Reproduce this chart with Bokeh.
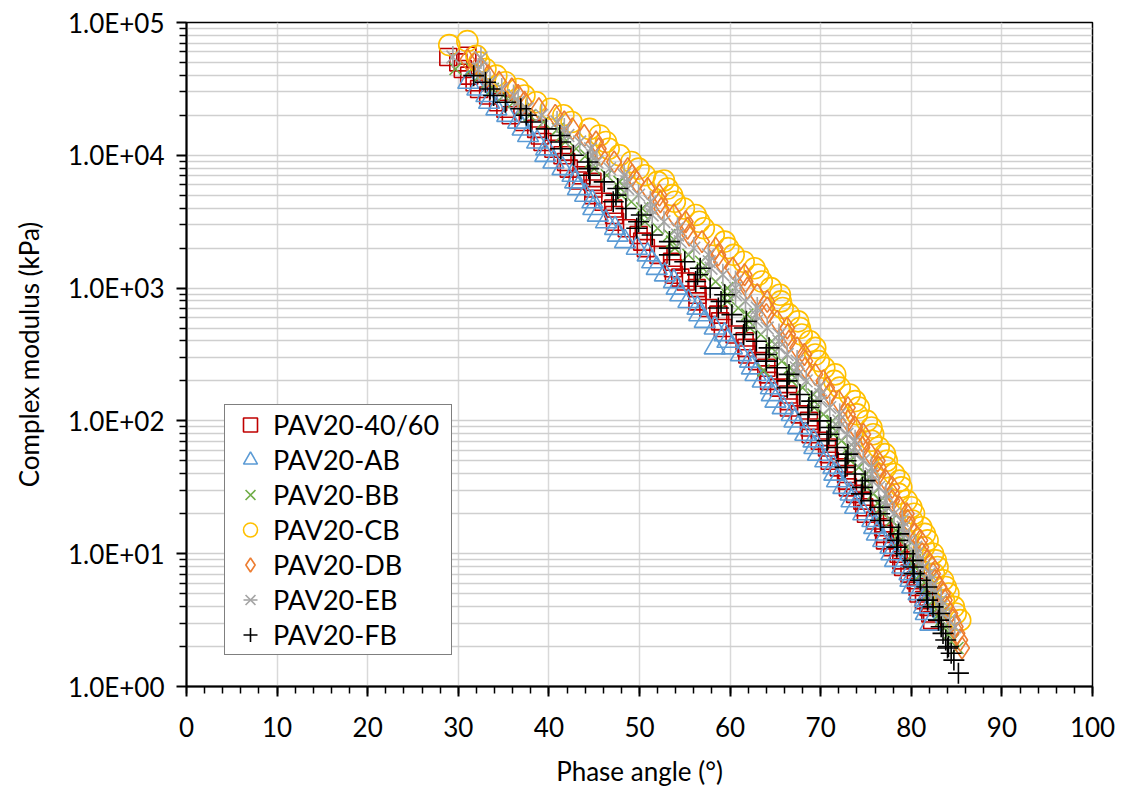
from bokeh.plotting import figure
from bokeh.models import Range1d, FixedTicker, CustomJSTickFormatter, Legend, LegendItem
from bokeh.embed import file_html
from bokeh.resources import INLINE
import math

# ---- data (phase angle in degrees, complex modulus in kPa) ----
pav_4060_x = [28.9, 30.0, 31.2, 32.3, 34.4, 35.8, 38.6, 39.3, 41.5, 42.2, 44.8, 43.2, 44.9, 47.1, 47.3, 49.9,
              50.7, 53.6, 53.8, 54.5, 56.3, 56.4, 58.7, 59.2, 61.6, 61.9, 64.0, 64.3, 66.4, 66.5, 68.7, 68.9,
              70.7, 71.0, 72.8, 73.0, 74.6, 75.0, 76.9, 77.1, 78.6, 79.1, 80.5, 80.8, 81.9, 82.3, 31.0,
              30.5, 31.8, 33.3, 35.2, 37.2, 39.0, 40.5, 41.9, 43.6, 44.9, 46.0, 47.2, 48.6, 50.3, 52.1, 53.7,
              55.1, 56.4, 57.6, 58.9, 60.5, 61.8, 63.0, 64.2, 65.4, 66.5, 67.7, 68.8, 69.9, 70.9, 72.0, 72.9,
              73.8, 74.8, 76.0, 77.0, 77.9, 78.9, 79.8, 80.7, 81.4, 82.1]
pav_4060_y = [55000, 50100, 39800, 31600, 25100, 20000, 15800, 12600, 10000, 7940, 6310, 6460, 5010, 3980, 3160, 2510,
              2000, 1580, 1260, 1200, 1000, 794, 631, 501, 398, 316, 251, 200, 158, 126, 100, 79.4,
              63.1, 50.1, 39.8, 31.6, 25.1, 20.0, 15.8, 12.6, 10.0, 7.94, 6.31, 5.01, 3.98, 3.16, 56200,
              44700, 35500, 28200, 22400, 17800, 14100, 11200, 8910, 7080, 5620, 4470, 3550, 2820, 2240, 1780, 1410,
              1120, 891, 708, 562, 447, 355, 282, 224, 178, 141, 112, 89.1, 70.8, 56.2, 44.7, 35.5,
              28.2, 22.4, 17.8, 14.1, 11.2, 8.91, 7.08, 5.62, 4.47, 3.55]

pav_ab_x = [31.1, 33.1, 34.2, 36.6, 37.7, 39.7, 40.5, 42.6, 43.2, 44.8, 45.4, 47.3, 48.4, 50.9, 51.9, 53.8,
            54.5, 56.4, 57.2, 58.3, 59.4, 60.2, 62.2, 62.8, 64.5, 65.0, 66.8, 67.5, 69.2, 69.7, 71.4, 71.8,
            73.3, 73.8, 75.7, 76.2, 77.7, 78.2, 79.8, 80.1, 81.5, 81.6, 82.1,
            32.1, 33.4, 35.4, 37.1, 38.7, 39.6, 41.5, 42.9, 44.0, 44.9, 46.3, 47.6, 49.7, 51.4, 52.8, 54.1,
            55.4, 56.6, 58.3, 59.7, 61.2, 62.4, 63.6, 64.6, 65.8, 67.1, 68.3, 69.3, 70.5, 71.5, 72.5, 73.4,
            74.7, 75.9, 76.9, 77.8, 79.0, 79.9, 80.8, 81.4]
pav_ab_y = [35500, 28200, 22400, 17800, 14100, 11200, 8910, 7080, 5620, 4470, 3550, 2820, 2240, 1780, 1410, 1120,
            891, 708, 562, 355, 447, 355, 282, 224, 178, 141, 112, 89.1, 70.8, 56.2, 44.7, 35.5,
            28.2, 22.4, 17.8, 14.1, 11.2, 8.91, 7.08, 5.62, 4.47, 3.55, 2.95,
            31600, 25100, 20000, 15800, 12600, 10000, 7940, 6310, 5010, 3980, 3160, 2510, 2000, 1580, 1260, 1000,
            794, 631, 501, 398, 316, 251, 200, 158, 126, 100, 79.4, 63.1, 50.1, 39.8, 31.6, 25.1,
            20.0, 15.8, 12.6, 10.0, 7.94, 6.31, 5.01, 3.98]

pav_bb_x = [29.7, 32.4, 33.8, 36.1, 37.9, 41.0, 41.8, 44.1, 45.0, 47.8, 48.0, 50.3, 50.6, 53.3, 53.9, 56.8,
            57.1, 59.7, 59.7, 61.9, 62.2, 64.6, 64.6, 66.6, 63.7, 66.8, 69.2, 69.3, 71.3, 71.4, 73.1, 73.3,
            75.0, 75.1, 76.6, 76.9, 78.6, 78.8, 80.2, 80.5, 81.7, 82.0, 83.0, 83.3, 84.2, 85.1,
            31.5, 33.2, 35.0, 37.1, 39.4, 41.4, 43.0, 44.6, 46.4, 47.9, 49.1, 50.5, 52.0, 53.6, 55.4, 57.0,
            58.4, 59.7, 60.9, 62.1, 63.4, 64.6, 65.7, 66.8, 68.0, 69.3, 70.3, 71.3, 72.3, 73.2, 74.2, 75.1,
            75.8, 76.7, 77.8, 78.7, 79.5, 80.4, 81.1, 81.9, 82.5, 83.2, 83.8, 84.6]
pav_bb_y = [44700, 39800, 31600, 25100, 20000, 15800, 12600, 10000, 7940, 6310, 5010, 3980, 3160, 2510, 2000, 1580,
            1260, 1000, 794, 631, 501, 398, 316, 251, 240, 200, 158, 126, 100, 79.4, 63.1, 50.1,
            39.8, 31.6, 25.1, 20.0, 15.8, 12.6, 10.0, 7.94, 6.31, 5.01, 3.98, 3.16, 2.51, 1.95,
            44700, 35500, 28200, 22400, 17800, 14100, 11200, 8910, 7080, 5620, 4470, 3550, 2820, 2240, 1780, 1410,
            1120, 891, 708, 562, 447, 355, 282, 224, 178, 141, 112, 89.1, 70.8, 56.2, 44.7, 35.5,
            28.2, 22.4, 17.8, 14.1, 11.2, 8.91, 7.08, 5.62, 4.47, 3.55, 2.82, 2.24]

pav_cb_x = [29.0, 31.0, 32.0, 33.0, 35.2, 37.3, 40.2, 42.5, 45.6, 46.6, 49.1, 50.6, 52.7, 53.1, 53.9, 56.2,
            57.1, 59.4, 60.4, 62.7, 63.5, 65.5, 65.8, 67.5, 67.9, 69.4, 69.8, 71.6, 72.1, 73.8, 74.0, 75.6,
            75.6, 77.1, 77.2, 78.7, 78.6, 80.0, 80.1, 81.5, 81.4, 82.7, 82.5, 83.8, 83.6, 84.9, 85.4,
            32.3, 34.2, 36.6, 38.6, 41.6, 44.5, 46.3, 47.8, 49.9, 52.0, 53.6, 54.9, 56.6, 58.2, 59.8, 61.5,
            63.1, 64.5, 65.6, 66.5, 67.7, 68.8, 69.4, 70.4, 71.5, 73.2, 74.2, 75.1, 75.8, 76.4, 77.3, 78.1,
            78.9, 79.5, 80.3, 81.1, 81.8, 82.4, 82.9, 83.5, 84.1, 84.7]
pav_cb_y = [67600, 72400, 56200, 44700, 35500, 28200, 22400, 17800, 14100, 11200, 8910, 7080, 6460, 5620, 4470, 3550,
            2820, 2240, 1780, 1410, 1120, 891, 708, 562, 447, 355, 282, 224, 178, 141, 112, 89.1,
            70.8, 56.2, 44.7, 35.5, 28.2, 22.4, 17.8, 14.1, 11.2, 8.91, 7.08, 5.62, 4.47, 3.55, 3.16,
            50100, 39800, 31600, 25100, 20000, 15800, 12600, 10000, 7940, 6310, 5010, 3980, 3160, 2510, 2000, 1580,
            1260, 1000, 794, 631, 501, 398, 316, 251, 200, 158, 126, 100, 79.4, 63.1, 50.1, 39.8,
            31.6, 25.1, 20.0, 15.8, 12.6, 10.0, 7.94, 6.31, 5.01, 3.98]

pav_db_x = [31.0, 31.9, 33.3, 35.9, 37.3, 40.7, 42.6, 45.2, 45.7, 48.7, 49.7, 52.2, 52.4, 55.1, 55.5, 58.4,
            59.0, 61.6, 61.9, 64.1, 64.0, 66.3, 66.5, 68.2, 68.3, 70.3, 71.0, 73.0, 73.0, 74.7, 74.6, 76.3,
            76.4, 77.9, 77.9, 79.5, 79.8, 81.0, 81.2, 82.3, 82.6, 83.5, 83.8, 84.6, 85.1, 85.6,
            32.6, 34.5, 36.6, 38.9, 41.7, 43.9, 45.5, 47.2, 49.2, 50.9, 52.3, 53.8, 55.3, 56.9, 58.7, 60.3,
            61.7, 63.0, 64.1, 65.2, 66.4, 67.4, 68.3, 69.4, 70.7, 72.0, 73.0, 73.8, 74.6, 75.5, 76.4, 77.2,
            77.9, 78.7, 79.6, 80.4, 81.1, 81.8, 82.4, 83.1, 83.7, 84.3, 84.9, 85.4]
pav_db_y = [52500, 50100, 39800, 31600, 25100, 20000, 15800, 12600, 10000, 7940, 6310, 5010, 3980, 3160, 2510, 2000,
            1580, 1260, 1000, 794, 631, 501, 398, 316, 251, 200, 158, 126, 100, 79.4, 63.1, 50.1,
            39.8, 31.6, 25.1, 20.0, 15.8, 12.6, 10.0, 7.94, 6.31, 5.01, 3.98, 3.16, 2.51, 1.95,
            44700, 35500, 28200, 22400, 17800, 14100, 11200, 8910, 7080, 5620, 4470, 3550, 2820, 2240, 1780, 1410,
            1120, 891, 708, 562, 447, 355, 282, 224, 178, 141, 112, 89.1, 70.8, 56.2, 44.7, 35.5,
            28.2, 22.4, 17.8, 14.1, 11.2, 8.91, 7.08, 5.62, 4.47, 3.55, 2.82, 2.24]

pav_eb_x = [29.4, 32.5, 32.2, 33.5, 36.1, 37.6, 40.9, 42.1, 44.6, 45.3, 48.3, 48.7, 51.2, 51.4, 54.2, 54.5,
            57.6, 57.9, 60.6, 60.6, 63.0, 62.9, 65.4, 65.4, 67.4, 67.5, 69.8, 70.0, 72.1, 72.0, 73.8, 73.8,
            75.6, 75.7, 77.2, 77.3, 79.0, 79.2, 80.5, 80.8, 82.0, 82.2, 83.3, 83.5, 84.8,
            32.8, 34.8, 36.6, 39.2, 41.7, 43.4, 44.8, 46.7, 48.6, 49.9, 51.2, 52.7, 54.2, 56.0, 57.7, 59.2,
            60.6, 61.7, 62.8, 64.1, 65.4, 66.3, 67.3, 68.4, 70.0, 71.0, 72.0, 72.9, 73.7, 74.7, 75.6, 76.4,
            77.1, 78.1, 79.1, 79.8, 80.6, 81.3, 82.1, 82.7, 83.3, 84.2]
pav_eb_y = [55000, 54000, 44700, 35500, 28200, 22400, 17800, 14100, 11200, 8910, 7080, 5620, 4470, 3550, 2820, 2240,
            1780, 1410, 1120, 891, 708, 562, 447, 355, 282, 224, 178, 141, 112, 89.1, 70.8, 56.2,
            44.7, 35.5, 28.2, 22.4, 17.8, 14.1, 11.2, 8.91, 7.08, 5.62, 4.47, 3.55, 2.82,
            39800, 31600, 25100, 20000, 15800, 12600, 10000, 7940, 6310, 5010, 3980, 3160, 2510, 2000, 1580, 1260,
            1000, 794, 631, 501, 398, 316, 251, 200, 158, 126, 100, 79.4, 63.1, 50.1, 39.8, 31.6,
            25.1, 20.0, 15.8, 12.6, 10.0, 7.94, 6.31, 5.01, 3.98, 3.16]

pav_fb_x = [33.0, 33.9, 36.9, 38.0, 41.2, 41.3, 44.3, 44.5, 47.6, 47.1, 50.2, 49.7, 53.3, 53.3, 56.7, 56.2,
            59.4, 58.7, 61.8, 61.5, 64.3, 64.0, 66.5, 66.3, 69.0, 68.6, 71.1, 70.7, 73.0, 72.7, 74.9, 74.5,
            76.5, 76.6, 78.6, 78.4, 80.2, 80.3, 81.7, 81.8, 83.1, 83.3, 83.8, 84.0, 84.7, 85.2,
            31.7, 33.5, 35.2, 37.5, 39.7, 41.3, 42.7, 44.4, 46.1, 47.4, 48.5, 49.9, 51.4, 53.3, 55.0, 56.4,
            57.8, 59.0, 60.2, 61.6, 62.9, 64.0, 65.2, 66.3, 67.7, 68.7, 69.9, 70.9, 71.8, 72.8, 73.8, 74.6,
            75.5, 76.5, 77.7, 78.5, 79.3, 80.2, 81.0, 81.7, 82.4, 83.0, 83.5, 84.1, 84.4]
pav_fb_y = [35500, 28200, 22400, 17800, 14100, 11200, 8910, 7080, 5620, 4470, 3550, 2820, 2240, 1780, 1410, 1120,
            891, 708, 562, 447, 355, 282, 224, 178, 141, 112, 89.1, 70.8, 56.2, 44.7, 35.5, 28.2,
            22.4, 17.8, 14.1, 11.2, 8.91, 7.08, 5.62, 4.47, 3.55, 2.82, 2.24, 1.95, 1.58, 1.26,
            39800, 31600, 25100, 20000, 15800, 12600, 10000, 7940, 6310, 5010, 3980, 3160, 2510, 2000, 1580, 1260,
            1000, 794, 631, 501, 398, 316, 251, 200, 158, 126, 100, 79.4, 63.1, 50.1, 39.8, 31.6,
            25.1, 20.0, 15.8, 12.6, 10.0, 7.94, 6.31, 5.01, 3.98, 3.16, 2.51, 2.00, 1.78]

series_names = ["PAV20-40/60", "PAV20-AB", "PAV20-BB", "PAV20-CB", "PAV20-DB", "PAV20-EB", "PAV20-FB"]
x_ticks = [0, 10, 20, 30, 40, 50, 60, 70, 80, 90, 100]
y_ticks = [1, 10, 100, 1000, 10000, 100000]

FONT = "Lato"

p = figure(width=1123, height=790, x_range=Range1d(0, 100), y_range=Range1d(1, 1e5),
           y_axis_type="log", output_backend="svg", toolbar_location=None,
           min_border_left=186, min_border_right=31, min_border_top=22, min_border_bottom=104,
           background_fill_color="white", border_fill_color="white")

p.outline_line_color = "black"
p.outline_line_width = 1.5

xt = FixedTicker(ticks=x_ticks, minor_ticks=list(range(0, 101, 2)))
yt = FixedTicker(ticks=y_ticks, minor_ticks=[m * 10 ** k for k in range(5) for m in range(2, 10)])
p.xaxis.ticker = xt
p.yaxis.ticker = yt
p.xgrid.ticker = xt
p.ygrid.ticker = yt

p.xgrid.grid_line_color = "#D9D9D9"
p.xgrid.grid_line_width = 1.5
p.ygrid.grid_line_color = "#CFCFCF"
p.ygrid.grid_line_width = 1.5
p.ygrid.minor_grid_line_color = "#CFCFCF"
p.ygrid.minor_grid_line_width = 1.5

p.yaxis.formatter = CustomJSTickFormatter(code="""
const e = Math.round(Math.log10(tick));
const s = (e < 0 ? "-" : "+") + String(Math.abs(e)).padStart(2, "0");
return "1.0E" + s;
""")

for ax in (p.xaxis[0], p.yaxis[0]):
    ax.axis_line_color = "black"
    ax.axis_line_width = 2
    ax.major_tick_line_color = "black"
    ax.minor_tick_line_color = "black"
    ax.major_tick_line_width = 2
    ax.minor_tick_line_width = 1.5
    ax.major_tick_in = 0
    ax.minor_tick_in = 0
    ax.major_tick_out = 10
    ax.minor_tick_out = 7
    ax.major_label_text_font = FONT
    ax.major_label_text_font_size = "26px"
    ax.major_label_text_color = "black"
    ax.axis_label_text_font = FONT
    ax.axis_label_text_font_size = "26px"
    ax.axis_label_text_font_style = "normal"
    ax.axis_label_text_color = "black"

p.xaxis.axis_label = "Phase angle (°)"
p.yaxis.axis_label = "Complex modulus (kPa)"
p.xaxis.major_label_standoff = 20
p.yaxis.major_label_standoff = 12
p.xaxis.axis_label_standoff = 15
p.yaxis.axis_label_standoff = 20

LW = 1.6
r1 = p.scatter(pav_4060_x, pav_4060_y, marker="square", size=17, fill_color=None,
               line_color="#C00000", line_width=LW)
r2 = p.scatter(pav_ab_x, pav_ab_y, marker="triangle", size=21, fill_color=None,
               line_color="#5B9BD5", line_width=LW)
r3 = p.scatter(pav_bb_x, pav_bb_y, marker="x", size=17, fill_color=None,
               line_color="#70AD47", line_width=LW)
r4 = p.scatter(pav_cb_x, pav_cb_y, marker="circle", size=21, fill_color=None,
               line_color="#FFC000", line_width=LW)
r5 = p.scatter(pav_db_x, pav_db_y, marker="diamond", size=22, fill_color=None,
               line_color="#ED7D31", line_width=LW)
r6a = p.scatter(pav_eb_x, pav_eb_y, marker="x", size=18, fill_color=None,
                line_color="#A5A5A5", line_width=LW)
r6b = p.scatter(pav_eb_x, pav_eb_y, marker="dash", angle=math.pi / 2, size=22, fill_color=None,
                line_color="#A5A5A5", line_width=LW)
r7 = p.scatter(pav_fb_x, pav_fb_y, marker="cross", size=21, fill_color=None,
               line_color="#000000", line_width=LW)

items = [LegendItem(label=series_names[0], renderers=[r1]),
         LegendItem(label=series_names[1], renderers=[r2]),
         LegendItem(label=series_names[2], renderers=[r3]),
         LegendItem(label=series_names[3], renderers=[r4]),
         LegendItem(label=series_names[4], renderers=[r5]),
         LegendItem(label=series_names[5], renderers=[r6a, r6b]),
         LegendItem(label=series_names[6], renderers=[r7])]

legend = Legend(items=items, location=(38, 31))
legend.border_line_color = "black"
legend.border_line_width = 1.5
legend.background_fill_color = "white"
legend.background_fill_alpha = 1.0
legend.label_text_font = FONT
legend.label_text_font_size = "27px"
legend.label_text_color = "black"
legend.glyph_width = 46
legend.glyph_height = 35
legend.label_height = 35
legend.label_width = 176
legend.label_standoff = 0
legend.spacing = 0
legend.padding = 2
legend.margin = 0
p.add_layout(legend, "center")

open("out.html", "w").write(file_html(p, INLINE))
